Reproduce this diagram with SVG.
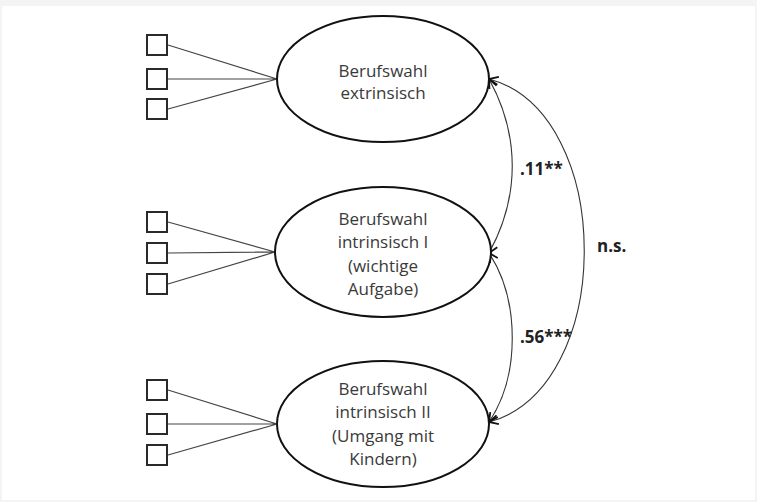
<svg xmlns="http://www.w3.org/2000/svg" width="757" height="502" viewBox="0 0 757 502">
<defs>
<style>
.lat{fill:#fff;stroke:#111;stroke-width:2}
.ind{fill:#fff;stroke:#2a2a2a;stroke-width:2}
.ld{stroke:#444;stroke-width:1.2;fill:none}
.cov{stroke:#333;stroke-width:1.1;fill:none;marker-start:url(#ah);marker-end:url(#ah)}
.t{font-family:"Open Sans","DejaVu Sans",sans-serif;font-size:17px;fill:#3a3a3a;text-anchor:middle}
.lb{font-family:"Open Sans","DejaVu Sans",sans-serif;font-size:17px;font-weight:bold;fill:#222}
</style>
<marker id="ah" markerUnits="userSpaceOnUse" markerWidth="14" markerHeight="14" refX="11" refY="7" orient="auto-start-reverse" viewBox="0 0 14 14">
<path d="M2,2.5 L11,7 L2,11.5" fill="none" stroke="#111" stroke-width="1.8"/>
</marker>
</defs>
<rect x="0" y="0" width="757" height="502" fill="#f4f4f4"/>
<rect x="2" y="6" width="753" height="494" fill="#fff"/>
<g id="connectors">
<path class="ld" d="M168,45 L277,79 M168,79 L277,79 M168,109 L277,79"/>
<path class="ld" d="M168,222 L275,252 M168,253 L275,252 M168,284 L275,252"/>
<path class="ld" d="M168,390 L277,424 M168,424 L277,424 M168,455 L277,424"/>
<path class="cov" d="M489,79 C520,135 520,197 489,253"/>
<path class="cov" d="M489,253 C520,300 520,376 489,422"/>
<path class="cov" d="M489,79 C616,113 616,388 489,422"/>
</g>
<g id="ind1">
<rect class="ind" x="147" y="35" width="20" height="20"/>
<rect class="ind" x="147" y="69" width="20" height="20"/>
<rect class="ind" x="147" y="99" width="20" height="20"/>
</g>
<g id="ind2">
<rect class="ind" x="147" y="212" width="20" height="20"/>
<rect class="ind" x="147" y="243" width="20" height="20"/>
<rect class="ind" x="147" y="274" width="20" height="20"/>
</g>
<g id="ind3">
<rect class="ind" x="147" y="380" width="20" height="20"/>
<rect class="ind" x="147" y="414" width="20" height="20"/>
<rect class="ind" x="147" y="445" width="20" height="20"/>
</g>
<g id="extrinsisch">
<ellipse class="lat" cx="383" cy="79" rx="106" ry="63"/>
<text class="t" x="383" y="77">Berufswahl</text>
<text class="t" x="383" y="99">extrinsisch</text>
</g>
<g id="intrinsisch1">
<ellipse class="lat" cx="383" cy="252" rx="108" ry="65"/>
<text class="t" x="383" y="225">Berufswahl</text>
<text class="t" x="383" y="248">intrinsisch I</text>
<text class="t" x="383" y="272">(wichtige</text>
<text class="t" x="383" y="295">Aufgabe)</text>
</g>
<g id="intrinsisch2">
<ellipse class="lat" cx="383" cy="424" rx="106" ry="63"/>
<text class="t" x="383" y="395">Berufswahl</text>
<text class="t" x="383" y="418">intrinsisch II</text>
<text class="t" x="383" y="442">(Umgang mit</text>
<text class="t" x="383" y="465">Kindern)</text>
</g>
<g id="labels">
<text class="lb" x="520" y="175">.11**</text>
<text class="lb" x="520" y="343">.56***</text>
<text class="lb" x="597" y="252">n.s.</text>
</g>
</svg>
